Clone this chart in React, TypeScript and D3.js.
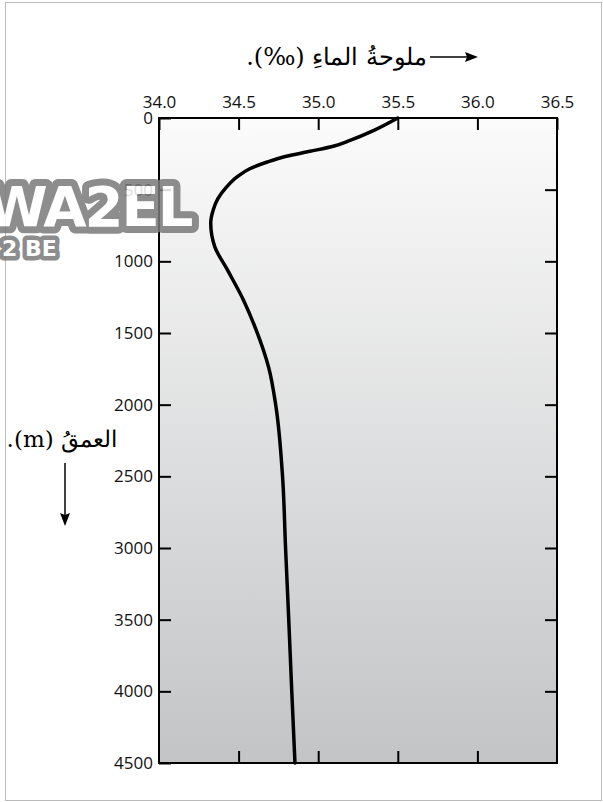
import { useRef, useEffect } from "react"
import * as d3 from "d3"

// salinity profile (depth in m, salinity in per mille)
const depthM = [0, 86, 156, 195, 232, 267, 307, 354, 411, 481, 563, 644, 734, 897, 1060, 1269, 1478, 1745, 2000, 2500, 3000, 3500, 4000, 4500]
const salinity = [35.5, 35.35, 35.2, 35.1, 34.95, 34.8, 34.68, 34.57, 34.49, 34.425, 34.37, 34.34, 34.325, 34.35, 34.43, 34.53, 34.61, 34.69, 34.733, 34.776, 34.795, 34.815, 34.834, 34.854]

const salinityTicks = [34.0, 34.5, 35.0, 35.5, 36.0, 36.5]
const depthTicks = [0, 500, 1000, 1500, 2000, 2500, 3000, 3500, 4000, 4500]

const xTitle = "ملوحةُ الماءِ (‰)."
const yTitle = "العمقُ (m)."

export default function App() {
    const svgRef = useRef<SVGSVGElement>(null)
    const width = 603
    const height = 802

    useEffect(() => {
        const svg = d3.select(svgRef.current)
        svg.selectAll("*").remove()

        const margin = { top: 118, left: 159, right: 46, bottom: 39 }
        const x = d3.scaleLinear().domain([34, 36.5]).range([margin.left, width - margin.right])
        const y = d3.scaleLinear().domain([0, 4500]).range([margin.top, height - margin.bottom])

        const defs = svg.append("defs")
        const grad = defs.append("linearGradient").attr("id", "bg").attr("x1", 0).attr("y1", 0).attr("x2", 0).attr("y2", 1)
        grad.append("stop").attr("offset", "0%").attr("stop-color", "#fbfbfb")
        grad.append("stop").attr("offset", "100%").attr("stop-color", "#c3c4c6")

        // outer frame
        svg.append("rect")
            .attr("x", 5.5).attr("y", 2.5)
            .attr("width", 596).attr("height", 798)
            .attr("fill", "white").attr("stroke", "#bdbdbd")

        const [x0, x1] = x.range()
        const [y0, y1] = y.range()
        svg.append("rect")
            .attr("x", x0).attr("y", y0)
            .attr("width", x1 - x0).attr("height", y1 - y0)
            .attr("fill", "url(#bg)")

        const font = "'Open Sans', sans-serif"
        const styleAxis = (g: any) => {
            g.select(".domain").remove()
            g.selectAll(".tick line").attr("stroke", "#000").attr("stroke-width", 2)
            g.selectAll(".tick text").attr("font-family", font).attr("font-size", 17).attr("fill", "#111")
        }

        svg.append("g").attr("transform", `translate(0,${y0})`)
            .call(d3.axisTop(x).tickValues(salinityTicks).tickFormat(d3.format(".1f")).tickSize(-12).tickPadding(10))
            .call(styleAxis)
        svg.append("g").attr("transform", `translate(0,${y1})`)
            .call(d3.axisBottom(x).tickValues(salinityTicks.slice(1, -1)).tickFormat(() => "").tickSize(-12))
            .call(styleAxis)
        svg.append("g").attr("transform", `translate(${x0},0)`)
            .call(d3.axisLeft(y).tickValues(depthTicks).tickFormat(d3.format("d")).tickSize(-12).tickPadding(6))
            .call(styleAxis)
        svg.append("g").attr("transform", `translate(${x1},0)`)
            .call(d3.axisRight(y).tickValues(depthTicks.slice(1, -1)).tickFormat(() => "").tickSize(-12))
            .call(styleAxis)

        svg.append("rect")
            .attr("x", x0).attr("y", y0)
            .attr("width", x1 - x0).attr("height", y1 - y0)
            .attr("fill", "none").attr("stroke", "#000").attr("stroke-width", 2)

        // depth increases monotonically, so interpolate salinity as a function of depth
        const line = d3.line<number>()
            .x((_, i) => x(salinity[i]))
            .y(d => y(d))
            .curve(d3.curveMonotoneY)
        svg.append("path")
            .attr("d", line(depthM))
            .attr("fill", "none").attr("stroke", "#000").attr("stroke-width", 3.5)
            .attr("stroke-linecap", "round").attr("stroke-linejoin", "round")

        // axis titles with arrows
        const arabic = "'DejaVu Serif', 'Liberation Serif', serif"
        svg.append("text")
            .attr("x", 427).attr("y", 65)
            .attr("direction", "rtl").attr("text-anchor", "start")
            .attr("font-family", arabic).attr("font-size", 24)
            .text(xTitle)
        svg.append("line").attr("x1", 430).attr("x2", 468).attr("y1", 57).attr("y2", 57)
            .attr("stroke", "#000").attr("stroke-width", 1.5)
        svg.append("path").attr("d", "M478,57 L465,52 L467,57 L465,62 Z").attr("fill", "#000")

        svg.append("text")
            .attr("x", 117).attr("y", 447)
            .attr("direction", "rtl").attr("text-anchor", "start")
            .attr("font-family", arabic).attr("font-size", 23)
            .text(yTitle)
        svg.append("line").attr("x1", 65).attr("x2", 65).attr("y1", 463).attr("y2", 515)
            .attr("stroke", "#000").attr("stroke-width", 1.5)
        svg.append("path").attr("d", "M65,526 L60,513 L65,515 L70,513 Z").attr("fill", "#000")

        // watermark stamp
        const wm = svg.append("g").attr("opacity", 0.85)
            .attr("font-family", "'DejaVu Sans', sans-serif").attr("font-weight", "bold")
            .attr("fill", "white").attr("stroke", "#7a7a7a").attr("stroke-linejoin", "round")
            .attr("paint-order", "stroke")
        wm.append("text").attr("x", -14).attr("y", 226).attr("font-size", 56).attr("stroke-width", 14)
            .attr("letter-spacing", -2).text("WA2EL")
        wm.append("text").attr("x", 2).attr("y", 256).attr("font-size", 22).attr("stroke-width", 9)
            .text("2 BE")
    }, [])

    return (
        <svg ref={svgRef} width={width} height={height}
            style={{ position: "absolute", left: 0, top: 0, display: "block" }} />
    )
}
